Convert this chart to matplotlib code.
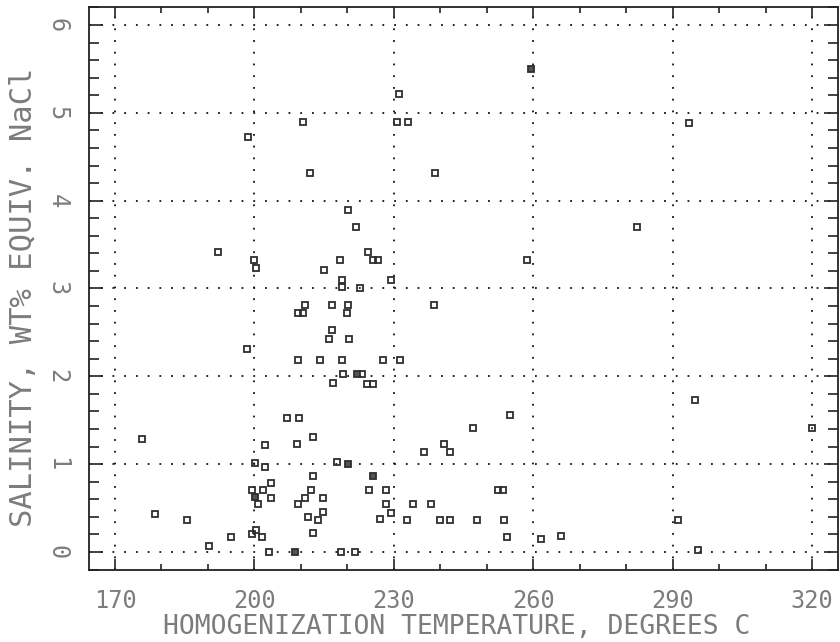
import matplotlib
matplotlib.use("Agg")
import matplotlib.pyplot as plt
import numpy as np
from matplotlib.ticker import MultipleLocator

# homogenization temperature (deg C) and salinity (wt% NaCl equiv.)
temp = [175.7, 178.6, 185.4, 190.3, 194.9, 192.2, 198.7, 198.5, 199.9, 200.4,
        199.4, 200.3, 201.6, 203.2, 200.1, 202.3, 202.3, 199.4, 201.9, 203.6,
        200.8, 203.6, 207.0, 209.7, 209.1, 212.7, 209.3, 214.1, 218.8, 210.9,
        209.4, 210.5, 210.5, 212.0, 216.6, 220.2, 219.9, 216.6, 216.1, 220.4,
        219.0, 223.1, 217.0, 224.2, 225.6, 227.7, 231.3, 220.1, 221.8, 224.5,
        225.5, 226.5, 218.4, 214.9, 218.8, 218.8, 222.7, 229.4, 231.2, 230.6,
        233.0, 238.9, 238.6, 258.6, 282.3, 293.6, 294.8, 319.9, 291.2, 295.5,
        255.0, 247.0, 236.5, 240.7, 242.1, 217.7, 212.7, 212.1, 210.9, 209.4,
        214.8, 224.7, 228.3, 252.5, 253.4, 228.3, 234.1, 238.1, 214.7, 213.7,
        211.6, 227.0, 229.5, 232.8, 240.0, 242.1, 248.0, 253.7, 212.7, 254.3,
        261.7, 266.0, 218.6, 221.6]
salinity = [1.29, 0.43, 0.36, 0.07, 0.17, 3.42, 4.73, 2.31, 3.32, 3.23,
            0.21, 0.25, 0.17, 0.00, 1.01, 0.97, 1.22, 0.71, 0.71, 0.78,
            0.55, 0.61, 1.52, 1.52, 1.23, 1.31, 2.19, 2.19, 2.19, 2.81,
            2.72, 2.72, 4.89, 4.31, 2.81, 2.81, 2.72, 2.53, 2.43, 2.42,
            2.03, 2.03, 1.92, 1.91, 1.91, 2.19, 2.19, 3.89, 3.70, 3.42,
            3.32, 3.32, 3.32, 3.21, 3.10, 3.02, 3.01, 3.10, 5.21, 4.89,
            4.89, 4.31, 2.81, 3.32, 3.70, 4.88, 1.73, 1.41, 0.36, 0.02,
            1.56, 1.41, 1.14, 1.23, 1.14, 1.03, 0.87, 0.71, 0.62, 0.55,
            0.61, 0.71, 0.71, 0.71, 0.71, 0.55, 0.55, 0.55, 0.45, 0.36,
            0.40, 0.38, 0.44, 0.36, 0.36, 0.36, 0.36, 0.36, 0.22, 0.17,
            0.15, 0.18, 0.00, 0.00]

# points drawn as filled squares in the original plot
temp_filled = [259.5, 208.7, 225.6, 200.1, 222.0, 220.2]
sal_filled = [5.50, 0.00, 0.86, 0.63, 2.03, 1.00]

x_ticks = [170, 200, 230, 260, 290, 320]
y_ticks = [0, 1, 2, 3, 4, 5, 6]

mono = "DejaVu Sans Mono"
txt_col = "#7c7c7c"

fig = plt.figure(figsize=(8.4, 6.42), dpi=100)
ax = fig.add_axes([89 / 840, 1 - 570 / 642, 749 / 840, 563 / 642])

ax.plot(temp, salinity, linestyle="none", marker="s", markersize=5,
        markerfacecolor="none", markeredgecolor="#2e2e2e", markeredgewidth=1.3)
ax.plot(temp_filled, sal_filled, linestyle="none", marker="s", markersize=5,
        markerfacecolor="#555555", markeredgecolor="#2e2e2e", markeredgewidth=1.3)

ax.set_xlim(164.4, 325.6)
ax.set_ylim(-0.205, 6.205)

ax.set_xticks(x_ticks)
ax.set_xticklabels([str(v) for v in x_ticks], fontfamily=mono, fontsize=17, color=txt_col)
ax.set_yticks(y_ticks)
ax.set_yticklabels([str(v) for v in y_ticks], fontfamily=mono, fontsize=17,
                   color=txt_col, rotation=-90, va="center")
ax.xaxis.set_minor_locator(MultipleLocator(10))
ax.yaxis.set_minor_locator(MultipleLocator(0.2))

ax.tick_params(axis="both", which="both", direction="in", top=True, right=True,
               color="#222222", width=1.2)
ax.tick_params(axis="x", which="major", length=8, pad=14)
ax.tick_params(axis="x", which="minor", length=4)
ax.tick_params(axis="y", which="major", length=10, pad=14)
ax.tick_params(axis="y", which="minor", length=7)

ax.grid(True, which="major", color="#111111", linestyle=(0, (1, 5.5)), linewidth=1.3)

for s in ax.spines.values():
    s.set_color("#222222")
    s.set_linewidth(1.3)

ax.set_xlabel("HOMOGENIZATION TEMPERATURE, DEGREES C", fontfamily=mono,
              fontsize=19, color=txt_col)
ax.xaxis.set_label_coords(0.491, -0.078)
ax.set_ylabel("SALINITY, WT% EQUIV. NaCl", fontfamily=mono, fontsize=22, color=txt_col)
ax.yaxis.set_label_coords(-0.068, 0.485)

plt.savefig("out.png", dpi=100)
